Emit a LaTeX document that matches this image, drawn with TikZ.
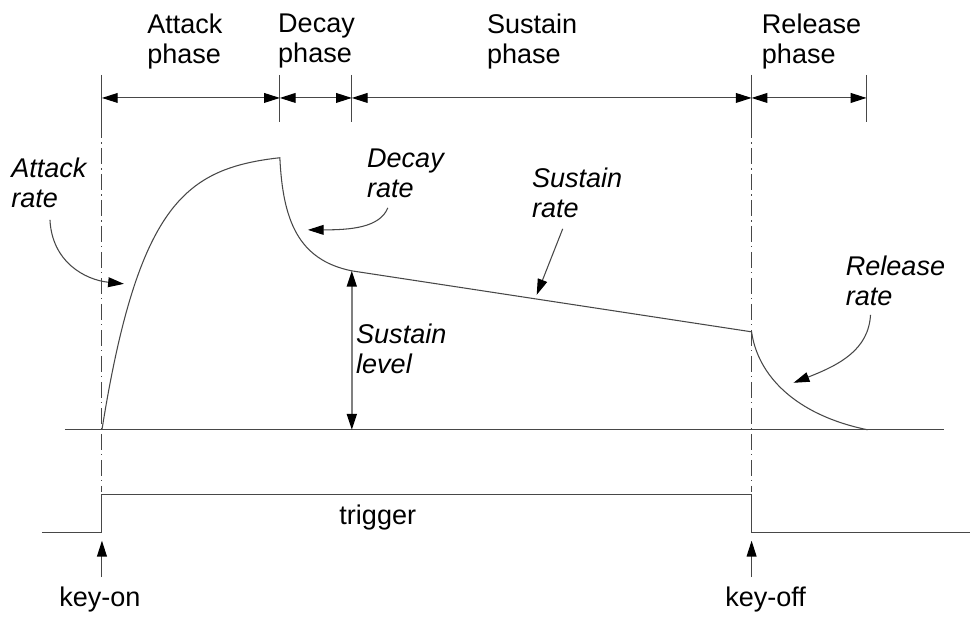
\documentclass[tikz,border=0pt]{standalone}
\usepackage{fontspec}
\setmainfont{Liberation Sans}
\usetikzlibrary{arrows.meta}

\begin{document}
\begin{tikzpicture}[x=0.02cm, y=-0.02cm,
  line/.style={draw=black!72, line width=0.6pt},
  head/.tip={Triangle[length=9pt,width=5.6pt,color=black]},
  pointer/.style={line, -head},
  dimarrow/.style={line, head-head},
  levelarrow/.style={draw=black!50, line width=1.1pt, head-head},
  dashdot/.style={line, dash pattern=on 9pt off 2.5pt on 0.8pt off 2.5pt},
  txt/.style={font=\fontsize{15.4}{17}\selectfont, inner sep=0pt, align=left, anchor=north west},
  itxt/.style={txt, font=\fontsize{15.4}{17}\selectfont\itshape},
  keytxt/.style={font=\fontsize{15.4}{17}\selectfont, inner sep=5.5pt, anchor=base}]

  % canvas
  \fill[white] (0,0) rectangle (971,612);

  % key points of the envelope
  \coordinate (on)   at (102,430);
  \coordinate (sus)  at (352,271);
  \coordinate (off)  at (752,332);
  \coordinate (rend) at (868,430);
  \coordinate (susbase) at (352,430);

  % phase boundary ticks
  \foreach \n/\x in {a/102, d/280, s/352, k/752, r/867} {
    \coordinate (top\n) at (\x,75);
    \coordinate (bot\n) at (\x,122);
    \coordinate (mid\n) at (\x,98);
    \draw[line] (top\n) -- (bot\n);
  }

  % phase dimension arrows
  \draw[dimarrow] (mida) -- (midd);
  \draw[dimarrow] (midd) -- (mids);
  \draw[dimarrow] (mids) -- (midk);
  \draw[dimarrow] (midk) -- (midr);

  % phase labels
  \node[txt] (lblA) at (147,13.6) {Attack\\phase};
  \node[txt] (lblD) at (278,13.6) {Decay\\phase};
  \node[txt] (lblS) at (487,13.6) {Sustain\\phase};
  \node[txt] (lblR) at (762,13.6) {Release\\phase};

  % trigger signal
  \coordinate (t0) at (42,533);
  \coordinate (t1) at (102,533);
  \coordinate (t2) at (102,495);
  \coordinate (t3) at (752,495);
  \coordinate (t4) at (752,533);
  \coordinate (t5) at (971,533);
  \draw[line] (t0) -- (t1) -- (t2) -- (t3) -- (t4) -- (t5);
  \node[keytxt, inner sep=0pt] (trig) at (378,525) {trigger};

  % key-on / key-off markers
  \coordinate (dkon)  at (102,492);
  \coordinate (dkoff) at (752,492);
  \draw[dashdot] (bota) -- (dkon);
  \draw[dashdot] (botk) -- (dkoff);

  \node[keytxt] (keyon)  at (100,607) {key-on};
  \node[keytxt] (keyoff) at (766,607) {key-off};
  \coordinate (kontip)  at (102,541);
  \coordinate (kofftip) at (752,541);
  \draw[pointer] (keyon.north -| kontip) -- (kontip);
  \draw[pointer] (keyoff.north -| kofftip) -- (kofftip);

  % zero level
  \coordinate (z0) at (65,430);
  \coordinate (z1) at (945,430);
  \draw[line] (z0) -- (z1);

  % envelope
  \draw[line]
    plot[domain=102:280, samples=90, variable=\t] (\t,{430-277*(1-exp(-(\t-102)/44))})
    .. controls (283,220) and (298,260) .. (sus)
    -- (off)
    .. controls (758,375) and (795,415) .. (rend);

  % sustain level
  \draw[levelarrow] (sus) -- (susbase);
  \node[itxt] (lblSL) at (356,323.6) {Sustain\\level};

  % rate annotations
  \node[itxt] (lblAR) at (11,157.6) {Attack\\rate};
  \node[itxt] (lblDR) at (367,148.6) {Decay\\rate};
  \node[itxt] (lblSR) at (532,167.6) {Sustain\\rate};
  \node[itxt] (lblRR) at (846,255.6) {Release\\rate};

  \coordinate (arA0) at (50,220);  \coordinate (arA1) at (124,284);
  \coordinate (arD0) at (388,208); \coordinate (arD1) at (308,230);
  \coordinate (arS0) at (563,229); \coordinate (arS1) at (537,295);
  \coordinate (arR0) at (871,315); \coordinate (arR1) at (794,383);

  \draw[pointer] (arA0) .. controls (52,262) and (85,280) .. (arA1);
  \draw[pointer] (arD0) .. controls (380,228) and (350,230) .. (arD1);
  \draw[pointer] (arS0) -- (arS1);
  \draw[pointer] (arR0) .. controls (869,350) and (840,365) .. (arR1);
\end{tikzpicture}
\end{document}
